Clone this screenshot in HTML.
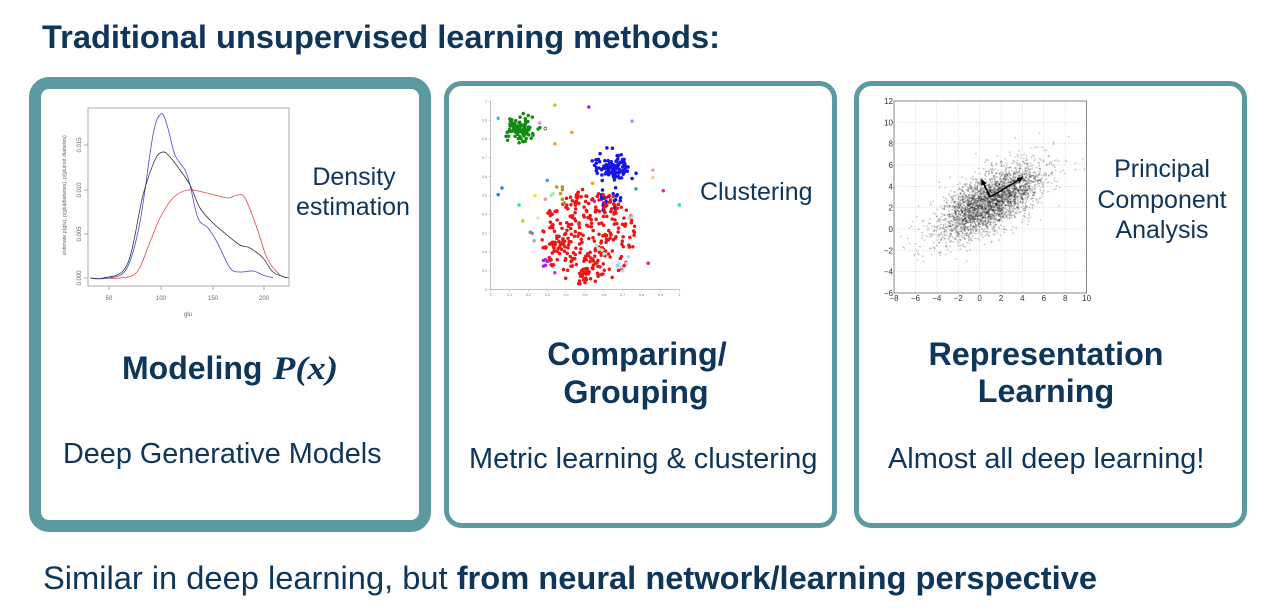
<!DOCTYPE html>
<html><head><meta charset="utf-8">
<style>
html,body{margin:0;padding:0;background:#fff;}
svg{display:block;}
text{font-family:"Liberation Sans",Arial,sans-serif;}
.t{fill:#0e355a;}
</style></head>
<body>
<svg id="s" width="1280" height="616" viewBox="0 0 1280 616" xmlns="http://www.w3.org/2000/svg">
<rect width="1280" height="616" fill="#fff"/>

<!-- Title -->
<text class="t" x="42" y="48" font-size="32.6" font-weight="bold" textLength="678" lengthAdjust="spacingAndGlyphs">Traditional unsupervised learning methods:</text>

<!-- Boxes -->
<rect x="35" y="83" width="390" height="443" rx="14" fill="#fff" stroke="#5b9aa1" stroke-width="12"/>
<rect x="446.5" y="83.5" width="388" height="442" rx="15" fill="#fff" stroke="#5b9aa1" stroke-width="5"/>
<rect x="856.5" y="83.5" width="388" height="442" rx="15" fill="#fff" stroke="#5b9aa1" stroke-width="5"/>

<!-- Box 1: density plot -->
<g id="dens">
  <rect x="88" y="108" width="201" height="178" fill="none" stroke="#999" stroke-width="0.8"/>
  <g stroke="#999" stroke-width="0.8">
    <line x1="109" y1="286" x2="109" y2="290"/>
    <line x1="161" y1="286" x2="161" y2="290"/>
    <line x1="213" y1="286" x2="213" y2="290"/>
    <line x1="264" y1="286" x2="264" y2="290"/>
    <line x1="88" y1="278" x2="84" y2="278"/>
    <line x1="88" y1="234" x2="84" y2="234"/>
    <line x1="88" y1="190" x2="84" y2="190"/>
    <line x1="88" y1="145" x2="84" y2="145"/>
  </g>
  <g font-size="6" fill="#666" text-anchor="middle">
    <text x="109" y="300">50</text>
    <text x="161" y="300">100</text>
    <text x="213" y="300">150</text>
    <text x="264" y="300">200</text>
    <text x="188" y="316">glu</text>
    <text transform="translate(81,278) rotate(-90)">0.000</text>
    <text transform="translate(81,234) rotate(-90)">0.005</text>
    <text transform="translate(81,190) rotate(-90)">0.010</text>
    <text transform="translate(81,145) rotate(-90)">0.015</text>
    <text transform="translate(66,195) rotate(-90)" font-size="5.3">estimate p(glu), p(glu|diabetes), p(glu|not diabetes)</text>
  </g>
</g>
<text class="t" x="354" y="185" font-size="25" text-anchor="middle">Density</text>
<text class="t" x="353" y="215" font-size="25" text-anchor="middle">estimation</text>
<text class="t" x="122" y="379" font-size="32" font-weight="bold">Modeling</text>
<text class="t" x="273" y="379" font-size="33" font-style="italic" font-weight="bold" style="font-family:'Liberation Serif',serif" textLength="65" lengthAdjust="spacingAndGlyphs">P(x)</text>
<text class="t" x="63" y="463" font-size="28.8">Deep Generative Models</text>

<!-- Box 2: scatter -->
<g id="scat">
  <line x1="490.7" y1="101" x2="490.7" y2="289.7" stroke="#999" stroke-width="0.6"/>
  <line x1="490.7" y1="289.7" x2="679.3" y2="289.7" stroke="#999" stroke-width="0.6"/>
  <g id="scatTicks" font-size="3.6" fill="#777"></g>
</g>
<text class="t" x="700" y="200" font-size="25">Clustering</text>
<text class="t" x="637" y="365" font-size="32.3" font-weight="bold" text-anchor="middle">Comparing/</text>
<text class="t" x="636" y="403" font-size="32.3" font-weight="bold" text-anchor="middle">Grouping</text>
<text class="t" x="469" y="468" font-size="28.9">Metric learning &amp; clustering</text>

<!-- Box 3: PCA -->
<g id="pca">
  <g id="pcaGrid" stroke="#bbb" stroke-width="0.5" stroke-dasharray="1,1.5"></g>
  <g id="pcaPts"></g>
  <rect x="894" y="101" width="192.6" height="192" fill="none" stroke="#555" stroke-width="0.7"/>
  <g id="pcaTicks" font-size="8" fill="#333" style="font-family:'Liberation Serif',serif"></g>
  <defs>
    <marker id="ah" markerWidth="6" markerHeight="6" refX="5" refY="3" orient="auto" markerUnits="userSpaceOnUse">
      <path d="M0,0 L6,3 L0,6 z" fill="#000"/>
    </marker>
  </defs>
  <line x1="990.3" y1="197" x2="1022.4" y2="177.8" stroke="#000" stroke-width="1.6" marker-end="url(#ah)"/>
  <line x1="990.3" y1="197" x2="981.7" y2="180" stroke="#000" stroke-width="1.6" marker-end="url(#ah)"/>
</g>
<text class="t" x="1162" y="177" font-size="25" text-anchor="middle">Principal</text>
<text class="t" x="1162" y="208" font-size="25" text-anchor="middle">Component</text>
<text class="t" x="1162" y="238" font-size="25" text-anchor="middle">Analysis</text>
<text class="t" x="1046" y="365" font-size="32.3" font-weight="bold" text-anchor="middle">Representation</text>
<text class="t" x="1046" y="402" font-size="32.3" font-weight="bold" text-anchor="middle">Learning</text>
<text class="t" x="888" y="468" font-size="28.9">Almost all deep learning!</text>

<!-- Bottom line -->
<text class="t" x="43" y="589" font-size="32.6" textLength="1054" lengthAdjust="spacingAndGlyphs">Similar in deep learning, but <tspan font-weight="bold">from neural network/learning perspective</tspan></text>
</svg>

<script>
(function(){
var NS="http://www.w3.org/2000/svg";
function el(p,tag,a){var e=document.createElementNS(NS,tag);for(var k in a)e.setAttribute(k,a[k]);p.appendChild(e);return e;}
function mb(a){return function(){a|=0;a=a+0x6D2B79F5|0;var t=Math.imul(a^a>>>15,1|a);t=t+Math.imul(t^t>>>7,61|t)^t;return((t^t>>>14)>>>0)/4294967296;}}
var R=mb(7);
function G(){var u=R()||1e-9,v=R();return Math.sqrt(-2*Math.log(u))*Math.cos(2*Math.PI*v);}
function cr(pts){var d="M"+pts[0][0]+","+pts[0][1];for(var i=0;i<pts.length-1;i++){var p0=pts[i-1]||pts[i],p1=pts[i],p2=pts[i+1],p3=pts[i+2]||p2;
d+=" C"+(p1[0]+(p2[0]-p0[0])/6).toFixed(1)+","+(p1[1]+(p2[1]-p0[1])/6).toFixed(1)+" "+(p2[0]-(p3[0]-p1[0])/6).toFixed(1)+","+(p2[1]-(p3[1]-p1[1])/6).toFixed(1)+" "+p2[0]+","+p2[1];}return d;}

// density curves
var dens=document.getElementById("dens");
var blue=[[90,278],[110,278],[127,268],[140,222],[153,135],[161,114],[167,125],[175,155],[185,170],[190,185],[198,218],[208,228],[217,242],[230,268],[240,272],[253,271],[263,275],[273,278]];
var black=[[90,278],[103,278],[127,265],[143,195],[155,160],[163,152],[170,157],[180,170],[190,185],[200,208],[213,223],[227,235],[240,245],[250,248],[263,258],[273,272],[287,278]];
var red=[[105,278],[120,278],[137,272],[150,242],[160,218],[173,198],[188,190],[207,193],[228,198],[237,195],[245,198],[257,228],[267,258],[280,275],[289,278]];
el(dens,"path",{d:cr(red),fill:"none",stroke:"#e04848","stroke-width":"0.8"});
el(dens,"path",{d:cr(blue),fill:"none",stroke:"#4848e0","stroke-width":"0.8"});
el(dens,"path",{d:cr(black),fill:"none",stroke:"#333","stroke-width":"0.8"});

// scatter
var sc=document.getElementById("scat");
function sx(x){return 490.7+x*188.6;} function sy(y){return 289.7-y*188.4;}
function dot(x,y,c,r){el(sc,"circle",{cx:sx(x).toFixed(1),cy:sy(y).toFixed(1),r:r||1.75,fill:c});}
var i;
for(i=0;i<90;i++){dot(0.155+G()*0.035,0.855+G()*0.033,"#138a13");}
for(i=0;i<115;i++){dot(0.655+G()*0.045,0.645+G()*0.033,"#1515e6");}
for(i=0;i<25;i++){dot(0.63+G()*0.03,0.475+G()*0.03,"#1515e6");}
for(i=0;i<320;i++){var a=R()*Math.PI*2,r=Math.sqrt(R());dot(0.52+Math.cos(a)*r*0.25,0.28+Math.sin(a)*r*0.255,"#ee1515");}
var extra=[[0.04,0.91,"#22ccee"],[0.26,0.885,"#cc99ee"],[0.34,0.98,"#99dd22"],[0.52,0.97,"#9922ee"],[0.75,0.895,"#9999ee"],[0.43,0.835,"#ff9922"],[0.34,0.775,"#ff9922"],[0.04,0.505,"#1188ee"],[0.06,0.54,"#1188ee"],[0.15,0.45,"#22ee88"],[0.17,0.365,"#aadd22"],[0.235,0.5,"#eeee11"],[0.25,0.38,"#ddeeaa"],[0.3,0.58,"#22aaee"],[0.29,0.48,"#ee9999"],[0.32,0.5,"#aaeeaa"],[0.33,0.51,"#aaeeaa"],[0.35,0.545,"#aa9922"],[0.38,0.545,"#aa9922"],[0.38,0.53,"#aa9922"],[0.37,0.51,"#aaaa22"],[0.38,0.48,"#aa9922"],[0.39,0.46,"#aa9922"],[0.54,0.565,"#ff9922"],[0.55,0.47,"#aa22cc"],[0.77,0.535,"#22aa99"],[0.86,0.635,"#ee99dd"],[0.86,0.595,"#eecc99"],[0.915,0.525,"#ee22aa"],[1.0,0.45,"#22ee88"],[0.21,0.305,"#888"],[0.22,0.3,"#888"],[0.23,0.26,"#aaa"],[0.735,0.38,"#ccc"],[0.75,0.39,"#ccc"],[0.28,0.155,"#aa22ee"],[0.29,0.16,"#aa22ee"],[0.3,0.15,"#aa22ee"],[0.28,0.125,"#aa22ee"],[0.29,0.13,"#aa22ee"],[0.34,0.09,"#ee22ee"],[0.56,0.235,"#aaeedd"],[0.57,0.22,"#aaeedd"],[0.59,0.21,"#aaeedd"],[0.6,0.19,"#aaeedd"],[0.68,0.14,"#aaddff"],[0.69,0.12,"#aaddff"],[0.7,0.1,"#aaddff"],[0.72,0.14,"#aaddff"],[0.73,0.175,"#aaddff"],[0.67,0.125,"#aaddff"],[0.835,0.14,"#ee1188"]];
extra.forEach(function(p){dot(p[0],p[1],p[2]);});
el(sc,"circle",{cx:sx(0.29).toFixed(1),cy:sy(0.855).toFixed(1),r:1.5,fill:"none",stroke:"#333","stroke-width":"0.6"});
var st=document.getElementById("scatTicks");
for(i=0;i<=10;i++){var lab=i==0?"0":(i==10?"1":"0."+i);
 var t=el(st,"text",{x:sx(i/10).toFixed(1),y:"296","text-anchor":"middle"});t.textContent=lab;
 var t2=el(st,"text",{x:"487",y:(sy(i/10)+1.2).toFixed(1),"text-anchor":"end"});t2.textContent=lab;
 el(sc,"line",{x1:sx(i/10),y1:289.7,x2:sx(i/10),y2:291.5,stroke:"#999","stroke-width":"0.5"});
 el(sc,"line",{x1:490.7,y1:sy(i/10),x2:488.9,y2:sy(i/10),stroke:"#999","stroke-width":"0.5"});
}

// PCA
function px(x){return 894+(x+8)*10.7;} function py(y){return 293-(y+6)*10.67;}
var gr=document.getElementById("pcaGrid");
for(var v=-6;v<=8;v+=2){el(gr,"line",{x1:px(v),y1:101,x2:px(v),y2:293});}
for(var w=-4;w<=10;w+=2){el(gr,"line",{x1:894,y1:py(w),x2:1086.6,y2:py(w)});}
var pp=document.getElementById("pcaPts");var th=Math.atan(0.6),c=Math.cos(th),s=Math.sin(th);
for(i=0;i<3200;i++){var a1=G()*2.8,b1=G()*1.15;var X=1+a1*c-b1*s,Y=2.6+a1*s+b1*c;
 if(X<-8||X>10||Y<-6||Y>12)continue;
 el(pp,"circle",{cx:px(X).toFixed(1),cy:py(Y).toFixed(1),r:"0.9",fill:"#000","fill-opacity":"0.22"});}
var tk=document.getElementById("pcaTicks");
function lbl(n){return n<0?"\u2212"+(-n):""+n;}
for(var q=-8;q<=10;q+=2){var tt=el(tk,"text",{x:px(q).toFixed(1),y:"301","text-anchor":"middle"});tt.textContent=lbl(q);}
for(var z=-6;z<=12;z+=2){var ty=el(tk,"text",{x:"893",y:(py(z)+3).toFixed(1),"text-anchor":"end"});ty.textContent=lbl(z);}
})();
</script>
</body></html>
